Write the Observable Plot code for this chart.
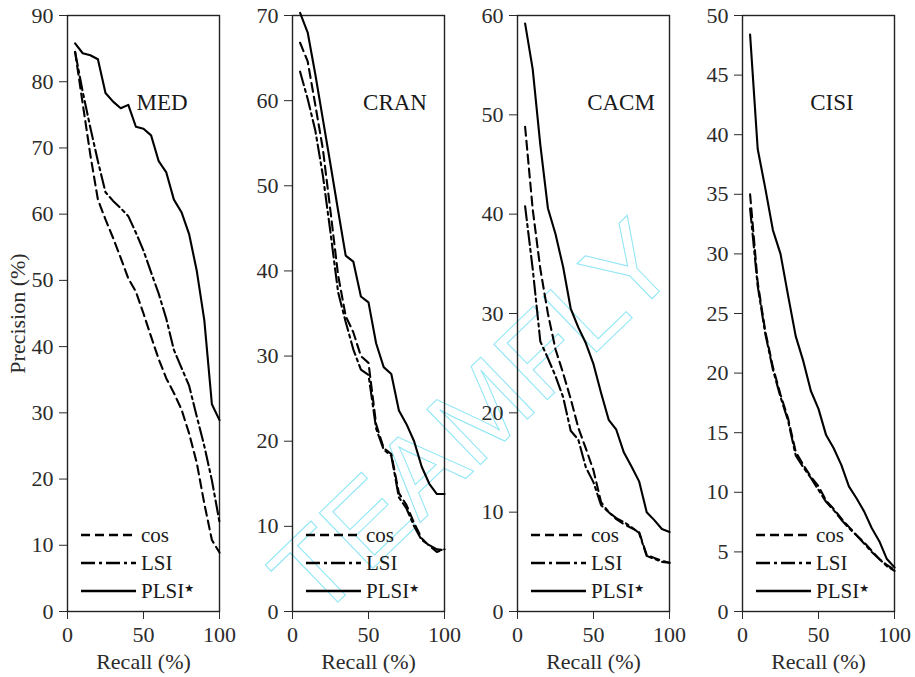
<!DOCTYPE html>
<html>
<head>
<meta charset="utf-8">
<script src="https://cdn.jsdelivr.net/npm/d3@7"></script>
<script src="https://cdn.jsdelivr.net/npm/@observablehq/plot@0.6"></script>
<style>
  html, body { margin: 0; padding: 0; background: #fff; }
  #wrap { position: relative; width: 915px; height: 677px; overflow: hidden; }
  .layer { position: absolute; left: 0; top: 0; }
</style>
</head>
<body>
<div id="wrap"></div>
<script>
// ---------- data ----------
const recall = [5, 10, 15, 20, 25, 30, 35, 40, 45, 50, 55, 60, 65, 70, 75, 80, 85, 90, 95, 100];
const xTicks = [0, 50, 100];
const series = ["cos", "LSI", "PLSI"];

const medTicks  = [0, 10, 20, 30, 40, 50, 60, 70, 80, 90];
const medCos    = [84.5, 76.7, 69.0, 62.2, 59.2, 56.4, 53.4, 50.3, 48.3, 45.0, 41.5, 38.1, 35.2, 33.0, 30.5, 26.9, 22.5, 16.3, 10.8, 8.9];
const medLsi    = [84.5, 78.5, 73.1, 68.0, 63.3, 62.0, 60.9, 59.7, 57.2, 54.5, 51.2, 48.0, 44.2, 39.5, 36.8, 34.1, 29.5, 25.0, 19.8, 13.5];
const medPlsi   = [85.8, 84.3, 84.0, 83.4, 78.3, 77.0, 76.0, 76.5, 73.2, 72.9, 71.9, 68.0, 66.3, 62.2, 60.3, 57.0, 51.5, 44.0, 31.3, 28.9];

const cranTicks = [0, 10, 20, 30, 40, 50, 60, 70];
const cranCos   = [66.8, 64.6, 59.5, 54.3, 47.0, 39.5, 34.7, 32.8, 30.0, 29.2, 22.0, 19.2, 18.5, 13.9, 12.5, 10.4, 8.6, 7.7, 7.0, 7.3];
const cranLsi   = [63.4, 60.2, 56.5, 51.2, 44.5, 37.5, 34.0, 30.8, 28.4, 27.8, 21.5, 19.0, 18.3, 13.4, 12.1, 10.0, 8.4, 7.8, 7.3, 7.2];
const cranPlsi  = [70.3, 68.0, 63.1, 57.8, 52.5, 47.1, 41.8, 41.1, 37.0, 36.3, 31.5, 28.7, 27.9, 23.6, 22.0, 20.0, 17.0, 15.0, 13.8, 13.8];

const cacmTicks = [0, 10, 20, 30, 40, 50, 60];
const cacmCos   = [48.8, 40.5, 34.5, 30.0, 26.4, 24.0, 21.4, 18.5, 16.4, 14.2, 11.0, 10.0, 9.3, 8.8, 8.4, 8.0, 5.7, 5.4, 5.1, 4.9];
const cacmLsi   = [40.8, 34.5, 27.2, 25.5, 23.7, 21.6, 18.2, 17.3, 14.5, 13.0, 10.7, 10.0, 9.4, 9.0, 8.5, 7.9, 5.6, 5.3, 5.0, 4.9];
const cacmPlsi  = [59.2, 54.6, 47.0, 40.6, 38.0, 34.7, 30.5, 28.6, 27.0, 24.9, 22.0, 19.3, 18.3, 16.0, 14.6, 13.1, 10.0, 9.2, 8.3, 8.0];

const cisiTicks = [0, 5, 10, 15, 20, 25, 30, 35, 40, 45, 50];
const cisiCos   = [35.0, 27.6, 23.5, 20.5, 18.2, 16.2, 13.4, 12.3, 11.3, 10.5, 9.3, 8.6, 7.8, 7.1, 6.4, 5.8, 5.1, 4.4, 3.9, 3.5];
const cisiLsi   = [33.8, 27.3, 23.3, 20.3, 18.0, 16.0, 13.1, 12.1, 11.2, 10.2, 9.2, 8.5, 7.7, 7.0, 6.4, 5.7, 5.0, 4.4, 3.8, 3.4];
const cisiPlsi  = [48.4, 38.8, 35.5, 32.0, 30.0, 26.5, 23.1, 21.0, 18.5, 17.0, 14.8, 13.7, 12.3, 10.5, 9.5, 8.4, 7.0, 5.9, 4.4, 3.7];

const panelNames = ["MED", "CRAN", "CACM", "CISI"];
const panelTicks = [medTicks, cranTicks, cacmTicks, cisiTicks];
const panelValues = [
  [medCos, medLsi, medPlsi],
  [cranCos, cranLsi, cranPlsi],
  [cacmCos, cacmLsi, cacmPlsi],
  [cisiCos, cisiLsi, cisiPlsi]
];

// ---------- pick an installed serif face ----------
function pickSerif() {
  const ctx = document.createElement("canvas").getContext("2d");
  const sample = "Recall (%) Precision MED 0123456789";
  const w = f => { ctx.font = "40px " + f; return ctx.measureText(sample).width; };
  const cands = ["Liberation Serif", "DejaVu Serif", "Noto Serif", "Times New Roman", "Tinos", "FreeSerif", "Nimbus Roman"];
  for (const c of cands) {
    if (w(`"${c}", monospace`) !== w("monospace") || w(`"${c}", sans-serif`) !== w("sans-serif")) return `"${c}"`;
  }
  return "serif";
}
const FONT = pickSerif() + ", serif";

// ---------- styling ----------
const dash = { cos: "9,5", LSI: "14,4,3,4", PLSI: null };
const panelStep = 225, frameLeft = 67, frameW = 152;
const titleCenter = [95, 103, 104, 90];

const wrap = document.getElementById("wrap");
wrap.style.fontFamily = FONT;
const NS = "http://www.w3.org/2000/svg";

// watermark (behind everything)
{
  const svg = document.createElementNS(NS, "svg");
  svg.setAttribute("width", 915); svg.setAttribute("height", 677);
  svg.setAttribute("class", "layer");
  const t = document.createElementNS(NS, "text");
  t.setAttribute("x", 0); t.setAttribute("y", 0);
  t.setAttribute("text-anchor", "middle");
  t.setAttribute("dominant-baseline", "central");
  t.setAttribute("transform", "translate(473,418) rotate(-44)");
  t.setAttribute("font-family", '"Liberation Sans", Arial, sans-serif');
  t.setAttribute("font-size", "112");
  t.setAttribute("fill", "none");
  t.setAttribute("stroke", "#8fe6f5");
  t.setAttribute("stroke-width", "1");
  t.textContent = "TEAMFLY";
  svg.appendChild(t);
  wrap.appendChild(svg);
}

panelNames.forEach((name, i) => {
  const ticks = panelTicks[i];
  const yMax = ticks[ticks.length - 1];
  const rows = [];
  series.forEach((s, j) => {
    recall.forEach((r, k) => rows.push({ series: s, recall: r, precision: panelValues[i][j][k] }));
  });

  const lineMarks = series.map(s =>
    Plot.line(rows.filter(d => d.series === s), {
      x: "recall", y: "precision",
      stroke: "#000", strokeWidth: 2.1,
      strokeDasharray: dash[s] || undefined,
      strokeLinejoin: "round"
    })
  );

  const plot = Plot.plot({
    width: 250, height: 677,
    marginLeft: frameLeft, marginRight: 250 - frameLeft - frameW,
    marginTop: 15, marginBottom: 66,
    style: { background: "none", fontFamily: FONT, fontSize: "22px", color: "#2b2b2b", overflow: "visible" },
    x: {
      domain: [0, 100], ticks: xTicks, tickSize: 8, tickPadding: 7, tickFormat: d => String(d),
      label: "Recall (%)", labelAnchor: "center", labelOffset: 57, labelArrow: "none"
    },
    y: {
      domain: [0, yMax], ticks: ticks, tickSize: 8, tickPadding: 6, tickFormat: d => String(d),
      label: i === 0 ? "Precision (%)" : null, labelAnchor: "center", labelOffset: 58, labelArrow: "none"
    },
    marks: [
      Plot.frame({ stroke: "#222", strokeWidth: 1.4 }),
      ...lineMarks
    ]
  });
  plot.classList.add("layer");
  plot.style.left = (i * panelStep) + "px";
  plot.style.position = "absolute";
  plot.querySelectorAll("text").forEach(t => t.setAttribute("font-family", FONT));
  wrap.appendChild(plot);

  // title + legend overlay
  const ox = i * panelStep + frameLeft;
  const svg = document.createElementNS(NS, "svg");
  svg.setAttribute("width", 915); svg.setAttribute("height", 677);
  svg.setAttribute("class", "layer");
  svg.style.overflow = "visible";
  const title = document.createElementNS(NS, "text");
  title.setAttribute("x", ox + titleCenter[i]);
  title.setAttribute("y", 110);
  title.setAttribute("text-anchor", "middle");
  title.setAttribute("font-family", FONT);
  title.setAttribute("font-size", "23");
  title.setAttribute("fill", "#1a1a1a");
  title.textContent = name;
  svg.appendChild(title);

  const legendY = [535, 563, 591];
  const labelText = ["cos", "LSI", "PLSI"];
  series.forEach((s, j) => {
    const ln = document.createElementNS(NS, "line");
    ln.setAttribute("x1", ox + 14); ln.setAttribute("x2", ox + 69);
    ln.setAttribute("y1", legendY[j]); ln.setAttribute("y2", legendY[j]);
    ln.setAttribute("stroke", "#000"); ln.setAttribute("stroke-width", 2.3);
    if (dash[s]) ln.setAttribute("stroke-dasharray", dash[s]);
    svg.appendChild(ln);
    const tx = document.createElementNS(NS, "text");
    tx.setAttribute("x", ox + 74);
    tx.setAttribute("y", legendY[j] + 6.5);
    tx.setAttribute("font-family", FONT);
    tx.setAttribute("font-size", "21");
    tx.setAttribute("fill", "#1a1a1a");
    tx.textContent = labelText[j];
    if (s === "PLSI") {
      const st = document.createElementNS(NS, "tspan");
      st.setAttribute("font-size", "11");
      st.setAttribute("dy", "-6");
      st.setAttribute("font-family", '"DejaVu Sans", sans-serif');
      st.textContent = "★";
      tx.appendChild(st);
    }
    svg.appendChild(tx);
  });
  wrap.appendChild(svg);
});
</script>
</body>
</html>
